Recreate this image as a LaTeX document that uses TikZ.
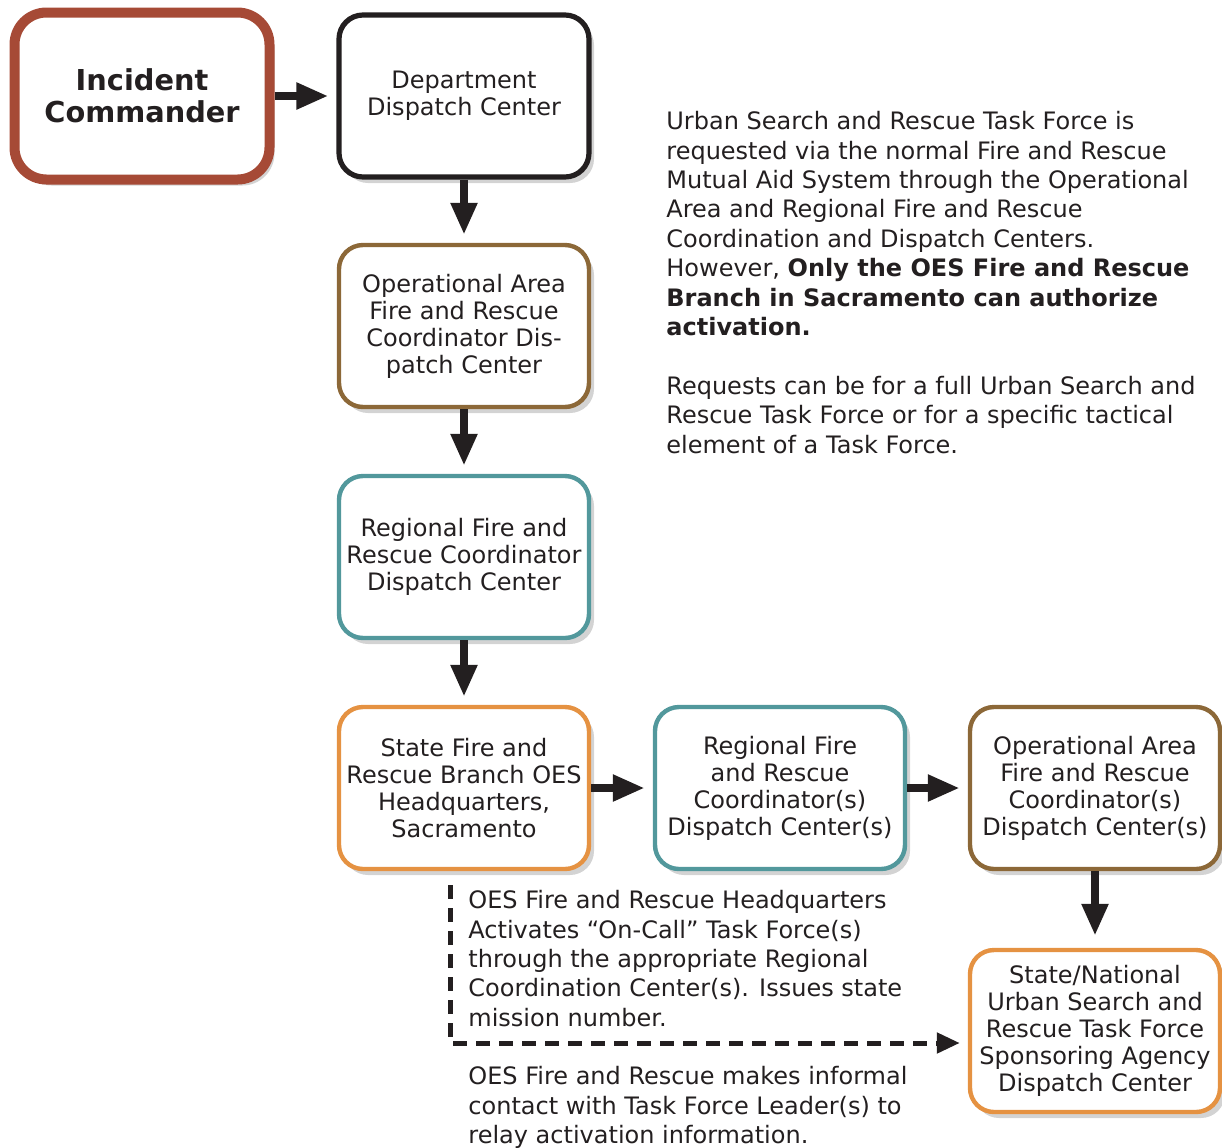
\documentclass[tikz,border=0pt]{standalone}
\usepackage{fontspec}
\setmainfont{DejaVu Sans}
\usetikzlibrary{arrows.meta,shadows,calc,positioning}
\definecolor{icred}{RGB}{166,74,54}
\definecolor{oabrown}{RGB}{140,104,56}
\definecolor{rgteal}{RGB}{82,152,156}
\definecolor{storange}{RGB}{229,146,66}
\definecolor{inkblack}{RGB}{35,31,32}

\begin{document}
\begin{tikzpicture}[x=0.5pt,y=-0.5pt,
    box/.style={draw, rounded corners=12pt, line width=2.2pt, fill=white, minimum width=125pt, minimum height=81pt, align=center, inner sep=1pt, text=inkblack,
      font=\fontsize{12pt}{13.5pt}\selectfont, drop shadow={shadow xshift=2.5pt, shadow yshift=-3pt, opacity=0.35}},
    flow/.style={line width=4pt, draw=inkblack, -{Triangle[width=12.5pt,length=16pt]}, shorten >=4pt},
    dashflow/.style={line width=2.5pt, draw=inkblack, dash pattern=on 7pt off 4.5pt, -{Triangle[width=10pt,length=11.5pt]}, shorten >=4pt},
    note/.style={anchor=north west, align=left, inner sep=0pt, text=inkblack, font=\fontsize{12pt}{14.7pt}\selectfont}]
  \useasboundingbox (0,0) rectangle (1222,1147);

  \node[box, draw=icred, line width=5pt, rounded corners=16pt, minimum width=127.5pt, minimum height=83.5pt,
        font=\fontsize{14.4pt}{16pt}\selectfont\bfseries] (ic) at (142,96) {Incident\\Commander};
  \node[box, draw=inkblack, line width=2.6pt] (dept) at (464,96) {Department\\Dispatch Center};
  \node[box, draw=oabrown] (oa) at (464,326) {Operational Area\\Fire and Rescue\\Coordinator Dis-\\patch Center};
  \node[box, draw=rgteal] (rg) at (464,557) {Regional Fire and\\Rescue Coordinator\\Dispatch Center};
  \node[box, draw=storange] (st) at (464,788) {State Fire and\\Rescue Branch OES\\Headquarters,\\Sacramento};
  \node[box, draw=rgteal] (rgs) at (780,788) {Regional Fire\\and Rescue\\Coordinator(s)\\Dispatch Center(s)};
  \node[box, draw=oabrown] (oas) at (1095,788) {Operational Area\\Fire and Rescue\\Coordinator(s)\\Dispatch Center(s)};
  \node[box, draw=storange] (natl) at (1095,1031) {State/National\\Urban Search and\\Rescue Task Force\\Sponsoring Agency\\Dispatch Center};

  \draw[flow] (ic) -- (dept);
  \draw[flow] (dept) -- (oa);
  \draw[flow] (oa) -- (rg);
  \draw[flow] (rg) -- (st);
  \draw[flow] (st) -- (rgs);
  \draw[flow] (rgs) -- (oas);
  \draw[flow, shorten >=6pt] (oas) -- (natl);

  \coordinate (dashtop) at (450,885);
  \draw[dashflow] (dashtop) |- ($(natl.west)+(0,12)$);

  \node[note] (why) at (666,111) {Urban Search and Rescue Task Force is\\
    requested via the normal Fire and Rescue\\
    Mutual Aid System through the Operational\\
    Area and Regional Fire and Rescue\\
    Coordination and Dispatch Centers.\\
    However, \textbf{Only the OES Fire and Rescue}\\
    \textbf{Branch in Sacramento can authorize}\\
    \textbf{activation.}\\[14.7pt]
    Requests can be for a full Urban Search and\\
    Rescue Task Force or for a specific tactical\\
    element of a Task Force.};
  \node[note] (hq) at (468,890) {OES Fire and Rescue Headquarters\\
    Activates “On-Call” Task Force(s)\\
    through the appropriate Regional\\
    Coordination Center(s). Issues state\\
    mission number.};
  \node[note] (contact) at (468,1066) {OES Fire and Rescue makes informal\\
    contact with Task Force Leader(s) to\\
    relay activation information.};
\end{tikzpicture}
\end{document}
